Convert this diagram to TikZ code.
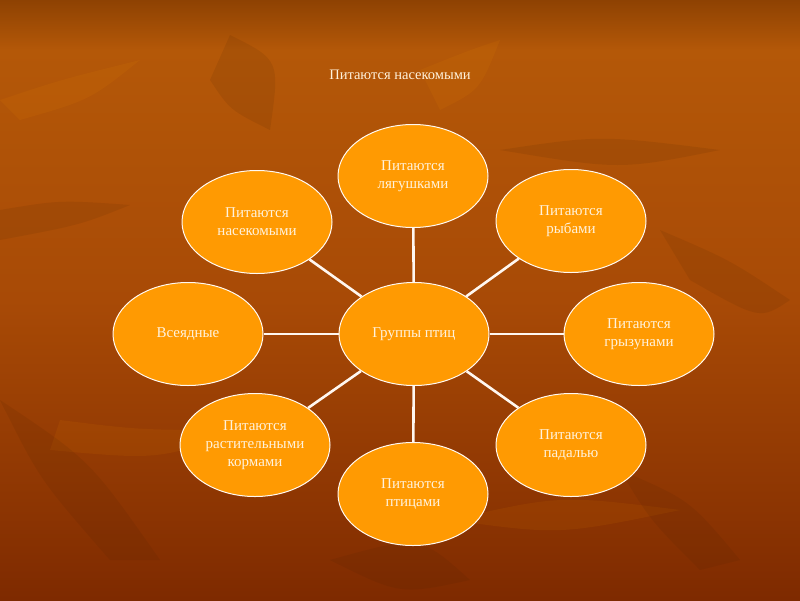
\documentclass[tikz,border=0pt]{standalone}
\usepackage{fontspec}
\setmainfont{Liberation Serif}
\usetikzlibrary{shapes.geometric}
\definecolor{bgtop}{HTML}{8E4202}
\definecolor{bgmid}{HTML}{B45808}
\definecolor{bgmain}{HTML}{A84A06}
\definecolor{bgbot}{HTML}{7E2A00}
\definecolor{orangefill}{HTML}{FF9A02}
\definecolor{txt}{HTML}{FFF2DC}
\tikzset{
  bubble/.style={ellipse, draw=white!95!orange, line width=1pt, fill=orangefill,
    minimum width=150pt, minimum height=103pt, inner sep=0pt, align=center,
    text=txt, font=\fontsize{15}{18}\selectfont},
  spoke/.style={draw=white!94!orange, line width=2.6pt},
  leafdark/.style={fill=black!60!bgmain, opacity=0.1},
  leaflight/.style={fill=orange!80!yellow, opacity=0.08},
}
\begin{document}
\begin{tikzpicture}[x=1pt,y=-1pt]
\useasboundingbox (0,0) rectangle (800,600);
% background
\shade[top color=bgtop, bottom color=bgmid] (0,0) rectangle (800,50);
\shade[top color=bgmid, bottom color=bgmain] (0,50) rectangle (800,300);
\shade[top color=bgmain, bottom color=bgbot!70!bgmain] (0,300) rectangle (800,520);
\shade[top color=bgbot!70!bgmain, bottom color=bgbot] (0,520) rectangle (800,600);
% faint leaves
\fill[leafdark] (0,210) .. controls (60,200) .. (130,205) .. controls (80,225) .. (0,240) -- cycle;
\fill[leafdark] (230,35) .. controls (280,60) .. (270,130) .. controls (230,110) .. (210,80) -- cycle;
\fill[leaflight] (420,70) .. controls (470,50) .. (500,40) .. controls (480,90) .. (440,110) -- cycle;
\fill[leafdark] (500,150) .. controls (600,135) .. (720,150) .. controls (620,170) .. cycle;
\fill[leafdark] (660,230) .. controls (730,260) .. (790,300) .. controls (760,320) .. (690,280) -- cycle;
\fill[leaflight] (60,420) .. controls (140,430) .. (240,430) .. controls (160,460) .. (50,450) -- cycle;
\fill[leafdark] (0,400) .. controls (90,460) .. (160,560) -- (110,560) .. controls (40,480) .. cycle;
\fill[leaflight] (450,520) .. controls (560,495) .. (680,510) .. controls (560,535) .. cycle;
\fill[leafdark] (620,470) .. controls (690,500) .. (740,560) -- (700,570) .. controls (650,520) .. cycle;
\fill[leaflight] (0,100) .. controls (60,80) .. (140,60) .. controls (90,100) .. (20,120) -- cycle;
\fill[leafdark] (330,560) .. controls (420,535) .. (470,580) .. controls (400,595) .. cycle;
% title
\node[text=txt, font=\fontsize{14.5}{17}\selectfont] (title) at (400,75) {Питаются насекомыми};
% bubbles
\node[bubble] (c) at (414,334) {Группы птиц};
\node[bubble] (n1) at (413,176) {Питаются\\лягушками};
\node[bubble] (n2) at (571,221) {Питаются\\рыбами};
\node[bubble] (n3) at (639,334) {Питаются\\грызунами};
\node[bubble] (n4) at (571,445) {Питаются\\падалью};
\node[bubble] (n5) at (413,494) {Питаются\\птицами};
\node[bubble] (n6) at (255,445) {Питаются\\растительными\\кормами};
\node[bubble] (n7) at (188,334) {Всеядные};
\node[bubble] (n8) at (257,222) {Питаются\\насекомыми};
% spokes
\foreach \n in {n1,n2,n3,n4,n5,n6,n7,n8}
  \draw[spoke] (c) -- (\n);
\end{tikzpicture}
\end{document}
